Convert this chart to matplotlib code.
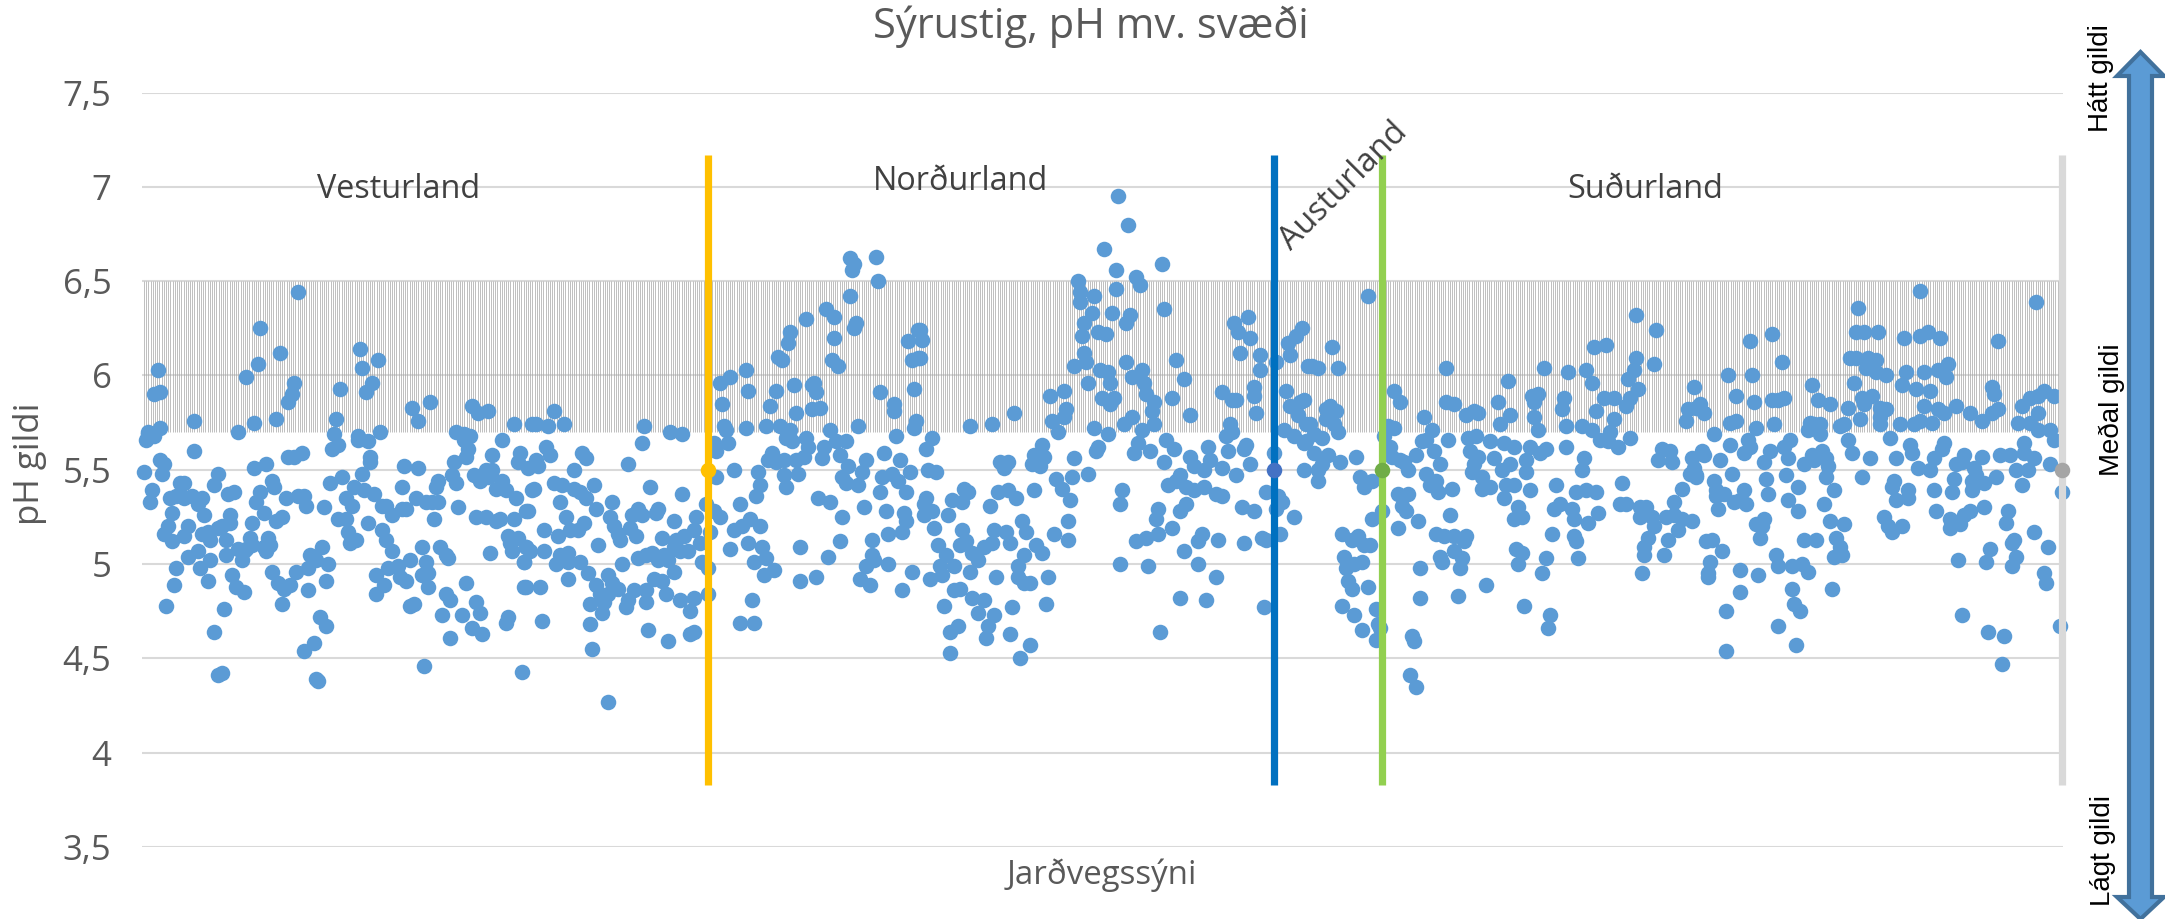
import matplotlib
matplotlib.use("Agg")
import matplotlib.pyplot as plt
from matplotlib.patches import Polygon
import numpy as np

# pH values, grouped in five runs along the x axis
x1 = [1,2,3,5,4,3,6,9,6,9,
      8,9,11,10,12,16,17,15,11,13,
      15,14,17,19,21,19,21,25,26,26,
      23,21,23,28,29,33,30,28,31,30,
      34,33,38,34,36,38,36,38,40,41,
      42,42,44,44,43,46,40,45,47,51,
      48,52,56,58,59,56,62,59,57,61,
      55,50,48,52,54,51,55,61,62,63,
      64,65,68,71,74,77,70,65,66,67,
      69,73,75,76,78,73,76,80,72,78,
      81,82,70,67,83,81,86,87,88,89,
      92,92,84,90,83,87,93,91,94,100,
      95,98,96,97,99,98,102,102,106,105,
      103,104,107,113,111,116,110,114,114,108,
      108,113,119,112,115,110,109,118,135,138,
      144,120,122,125,123,117,121,117,120,122,
      125,130,132,130,131,138,137,142,146,145,
      148,147,148,155,157,156,128,134,129,132,
      140,142,140,143,143,134,136,141,149,153,
      152,152,154,162,150,160,154,167,169,165,
      170,183,182,190,191,191,174,185,184,183,
      188,192,157,161,164,161,163,162,165,168,
      173,186,180,175,189,188,166,169,172,175,
      173,177,180,182,187,193,167,172,177,179,
      186,192,195,158,195]
ph1 = [5.49,5.66,5.69,5.39,5.33,5.70,5.68,5.72,5.90,5.91,
       6.03,5.55,5.53,5.48,4.78,4.89,4.98,5.12,5.16,5.20,
       5.27,5.35,5.36,5.43,5.43,5.37,5.35,5.36,5.60,5.76,
       5.20,5.15,5.04,5.07,4.98,4.91,5.35,5.32,5.26,5.16,
       5.13,5.17,5.19,5.02,5.42,5.48,4.64,4.41,4.42,4.76,
       5.05,5.13,5.22,5.26,5.37,5.38,5.20,4.94,4.88,4.85,
       5.70,5.99,5.75,6.06,6.25,5.51,5.53,5.38,5.33,5.27,
       5.22,5.02,5.08,5.08,5.14,5.07,5.10,5.09,5.07,5.14,
       5.10,4.96,4.90,4.87,4.89,4.96,4.79,5.44,5.41,5.77,
       6.12,5.86,5.90,5.96,6.44,5.57,5.57,5.59,5.35,5.36,
       5.36,5.31,5.25,5.23,4.86,4.54,4.58,4.39,4.38,4.72,
       4.67,4.91,5.05,5.09,4.98,5.02,5.00,5.30,5.43,5.46,
       5.61,5.63,5.69,5.77,5.93,5.24,5.24,5.35,5.41,5.31,
       5.17,5.11,5.13,5.22,5.39,5.37,5.48,5.54,5.57,5.66,
       5.68,5.65,5.70,5.91,5.96,6.04,6.14,6.08,5.83,5.76,
       5.86,5.18,5.13,5.07,4.98,4.94,4.89,4.84,5.31,5.31,
       5.26,5.29,5.29,5.41,5.52,5.51,5.35,5.33,5.24,5.33,
       5.33,5.41,5.44,5.47,5.43,5.54,4.99,5.02,4.93,4.91,
       5.09,5.01,4.94,4.95,4.88,4.78,4.79,4.46,5.09,5.03,
       5.05,4.84,4.81,4.90,4.73,4.73,4.61,4.80,4.74,4.66,
       4.63,4.72,4.69,4.43,4.88,5.01,5.06,5.07,5.11,5.15,
       5.14,5.09,5.70,5.69,5.68,5.66,5.61,5.57,5.84,5.80,
       5.81,5.74,5.66,5.58,5.59,5.54,5.47,5.44,5.50,5.50,
       5.46,5.40,5.44,5.39,5.35,5.51,5.25,5.25,5.23,5.24,
       5.24,5.28,5.39,5.30,5.74]

x2 = [197,203,206,211,198,197,202,204,196,206,
      210,209,216,219,222,226,216,220,222,227,
      193,212,214,218,221,201,208,228,192,194,
      201,207,209,213,213,219,191,213,192,199,
      200,223,227,229,233,231,224,230,224,225,
      233,233,235,238,240,235,234,236,238,239,
      243,245,248,250,244,247,251,250,254,258,
      257,266,260,270,264,270,248,252,255,258,
      261,263,266,266,267,271,276,277,282,269,
      273,279,280,283,284,286,289,287,256,260,
      246,252,243,242,252,262,269,276,283,274,
      253,263,274,276,286,287,293,289,294,290,
      291,292,302,303,302,296,308,309,307,299,
      296,300,304,309,294,303,310,312,306,316,
      311,305,299,306,329,337,329,343,349,338,
      344,350,361,322,321,328,314,317,326,335,
      336,337,327,335,339,312,319,324,322,325,
      332,333,315,313,317,321,327,331,340,341,
      344,347,352,349,353,350,352,358,360,362,
      358,377,371,379,384,370,375,378,369,382,
      372,381,382,380,373,365,365,366,362,373,
      385,359,364,380,354,356,355,367,368,354,
      342,346,332,324,323,318,320,346,357,356,
      345,348,369,376,376,383,388,385,388,386,
      387,386]
ph2 = [5.74,5.73,5.81,5.74,5.52,5.55,5.62,5.58,5.40,5.43,
       5.42,5.33,5.40,5.38,5.35,5.42,5.50,5.59,5.56,5.29,
       5.28,5.25,5.18,5.18,5.22,5.18,5.15,5.10,5.09,5.07,
       5.07,5.00,5.05,5.06,5.01,5.01,5.01,4.92,4.88,4.88,
       4.70,4.95,4.89,4.84,4.84,4.80,4.79,4.74,4.68,4.55,
       4.27,4.94,4.90,4.87,5.00,5.33,5.25,5.20,5.16,5.13,
       5.53,5.26,5.29,5.26,5.19,5.15,5.73,5.64,5.41,5.29,
       5.27,5.23,5.14,5.37,5.70,5.69,5.03,5.05,5.06,5.02,
       5.05,5.02,4.96,5.09,5.13,5.15,5.18,5.25,5.32,5.07,
       5.07,5.11,5.01,4.98,5.17,5.28,5.25,5.46,4.92,4.91,
       4.86,4.86,4.81,4.77,4.80,4.84,4.81,4.82,4.84,4.75,
       4.65,4.59,4.63,4.64,5.64,5.60,5.64,5.96,5.99,5.85,
       5.73,5.71,6.03,5.92,5.72,5.50,5.49,5.42,5.36,5.32,
       5.18,5.20,5.24,5.20,5.08,5.11,5.09,5.03,5.01,4.97,
       4.94,4.81,4.69,4.69,4.91,4.93,5.09,5.04,5.12,5.35,
       5.33,5.25,5.30,5.41,5.47,5.48,5.84,5.92,5.95,5.95,
       5.96,5.91,5.80,5.82,5.83,5.73,5.73,5.71,5.67,5.65,
       5.67,5.62,5.59,5.55,5.54,5.55,5.55,5.57,5.56,5.62,
       5.71,5.65,5.65,5.58,5.52,5.46,5.43,5.42,5.49,5.55,
       5.73,5.68,5.59,5.55,5.49,5.46,5.48,5.44,5.38,5.38,
       5.28,5.27,5.23,5.17,5.16,5.13,5.05,5.02,4.99,5.00,
       4.96,4.92,4.89,4.86,6.62,6.59,6.56,6.63,6.50,6.42,
       6.35,6.31,6.30,6.23,6.17,6.10,6.08,6.20,6.28,6.25,
       6.08,6.05,5.91,5.85,5.81,6.18,6.24,6.08,6.09,5.93,
       5.76,5.72]

x3 = [389,390,389,395,392,393,397,392,391,391,
      395,403,396,398,402,399,406,394,400,414,
      405,410,411,413,410,412,409,415,418,421,
      425,426,432,434,440,442,424,428,433,437,
      446,406,409,401,415,421,418,426,423,404,
      408,422,404,434,444,439,435,427,438,441,
      438,441,444,447,450,453,456,463,463,464,
      460,457,465,452,429,433,431,445,449,446,
      451,450,466,436,425,414,454,461,462,455,
      461,458,473,478,477,476,483,473,466,471,
      472,470,471,475,478,482,469,469,468,476,
      485,487,487,481,493,488,510,497,499,511,
      494,492,479,483,484,492,500,495,501,517,
      521,502,506,505,506,480,484,486,515,495,
      491,500,524,498,496,504,512,516,511,524,
      533,526,534,543,552,551,554,540,531,547,
      519,513,517,522,526,531,537,540,490,489,
      522,519,508,507,515,508,502,497,530,528,
      538,521,551,489,503,528,537,519,532,509,
      561,560,562,569,576,550,556,562,568,570,
      567,581,566,540,545,547,544,542,545,557,
      556,556,559,559,567,549,546,548,553,554,
      574,573,577,580,583,572,574,579,581,578,
      571,576,582,581]
ph3 = [6.24,6.19,6.09,5.67,5.61,5.50,5.49,5.35,5.32,5.26,
       5.28,5.26,5.19,5.10,5.05,4.99,4.99,4.92,4.94,4.96,
       5.34,5.33,5.40,5.38,5.18,5.12,5.10,5.06,5.02,5.09,
       5.11,5.18,5.17,5.11,5.23,5.17,5.31,5.38,5.39,5.35,
       5.39,4.86,4.87,4.78,4.82,4.81,4.74,4.73,4.67,4.64,
       4.67,4.61,4.53,4.63,4.57,4.50,4.77,4.93,4.99,5.05,
       4.93,4.90,4.90,5.10,5.06,4.93,5.16,5.13,5.23,5.34,
       5.40,5.45,5.46,4.79,5.54,5.54,5.51,5.53,5.52,5.58,
       5.57,5.63,5.56,5.80,5.74,5.73,5.89,5.92,5.82,5.76,
       5.78,5.70,5.48,5.62,5.60,5.72,5.69,5.96,6.05,6.12,
       6.07,6.21,6.28,6.33,6.23,6.22,6.39,6.44,6.50,6.42,
       6.33,6.46,6.56,6.67,6.80,6.95,6.59,6.52,6.48,6.35,
       6.32,6.28,6.03,6.02,5.96,6.07,6.03,5.99,5.96,6.08,
       5.98,5.90,5.86,5.81,5.74,5.88,5.85,5.88,5.88,5.78,
       5.74,5.71,5.79,5.64,5.59,5.60,5.66,5.61,5.54,5.57,
       5.62,5.52,5.55,5.60,5.63,5.61,5.53,5.51,5.50,5.47,
       5.47,5.42,5.44,5.41,5.39,5.41,5.37,5.36,5.39,5.32,
       5.32,5.28,5.29,5.24,5.19,5.16,5.14,5.12,5.16,5.12,
       5.13,5.07,5.11,5.00,4.99,5.00,4.93,4.82,4.81,4.64,
       4.77,5.14,5.13,5.16,5.25,5.30,5.28,5.38,5.36,5.33,
       5.29,5.50,5.59,5.91,5.87,5.87,5.74,5.68,5.70,5.80,
       5.94,5.89,6.11,6.03,6.07,6.12,6.28,6.23,6.31,6.20,
       6.11,6.17,6.21,6.25,6.05,5.92,5.84,5.86,5.87,5.79,
       5.71,5.68,5.74,5.64]

x4 = [595,585,588,598,594,592,597,592,596,598,
      584,586,590,582,586,593,599,607,588,590,
      588,609,611,615,613,626,629,641,652,652,
      656,626,623,621,645,640,642,653,624,625,
      637,646,649,629,631,633,642,644,647,648,
      655,628,633,630,632,638,628,620,615,654,
      600,605,608,611,614,601,610,606,602,603,
      605,613,600,606,617,618,619,610,617,635,
      636,634,637,639,639,647,651,656,662,661,
      656,649,650,660,659,658,672,691,704,703,
      700,702,718,717,716,705,688,687,690,686,
      690,688,681,694,682,686,670,674,670,665,
      666,664,668,663,667,674,681,686,694,702,
      699,712,692,692,684,676,680,679,684,678,
      683,662,666,668,696,698,695,696,698,701,
      713,711,710,712,720,725,722,725,726,732,
      747,757,756,747,746,743,748,744,742,736,
      731,727,736,734,729,733,738,744,773,772,
      777,776,721,720,707,717,722,727,740,739,
      742,706,709,715,716,723,728,770,774,777,
      758,760,764,765,775,749,752,749,755,756,
      762,766,766,768,770,775,753,751,751,763,
      761,750]
ph4 = [6.15,6.05,6.04,6.04,5.84,5.82,5.81,5.77,5.74,5.70,
       5.74,5.69,5.67,5.65,5.59,5.58,5.54,5.57,5.50,5.53,
       5.44,5.46,5.41,5.44,6.42,5.92,5.86,5.78,6.04,5.86,
       5.85,5.72,5.73,5.68,5.71,5.65,5.66,5.66,5.62,5.57,
       5.58,5.60,5.53,5.55,5.54,5.50,5.48,5.42,5.44,5.38,
       5.40,5.37,5.37,5.31,5.28,5.23,5.19,5.28,5.24,5.26,
       5.16,5.13,5.15,5.10,5.10,5.04,5.01,5.00,4.98,4.91,
       4.87,4.88,4.78,4.73,4.76,4.68,4.66,4.65,4.60,4.62,
       4.59,4.41,4.35,4.98,4.82,5.16,5.15,5.15,5.15,5.12,
       5.07,5.04,5.01,5.03,4.98,4.83,4.89,4.78,4.73,4.66,
       4.95,5.03,5.03,5.12,5.15,5.16,5.00,5.08,5.06,5.24,
       5.25,5.30,5.35,5.39,5.42,5.42,5.40,5.41,5.46,5.49,
       5.53,5.60,5.57,5.67,5.68,5.65,5.64,5.62,5.62,5.61,
       5.59,5.62,5.55,5.49,5.53,5.56,5.50,5.74,5.79,5.86,
       5.97,5.79,5.81,5.80,5.78,5.71,5.89,5.86,5.90,6.04,
       6.02,5.88,5.82,5.73,5.73,5.71,6.03,5.96,6.15,6.16,
       6.32,6.24,6.06,6.09,6.03,5.98,5.93,5.88,5.84,5.88,
       5.88,5.81,5.77,5.70,5.66,5.65,5.62,5.67,5.82,5.76,
       5.83,5.94,5.56,5.50,5.42,5.38,5.39,5.38,5.43,5.32,
       5.32,5.29,5.32,5.29,5.24,5.22,5.27,5.40,5.48,5.47,
       5.55,5.61,5.60,5.54,5.56,5.30,5.30,5.25,5.25,5.20,
       5.25,5.33,5.26,5.18,5.24,5.23,5.14,5.09,5.05,5.13,
       5.05,4.95]

x5 = [779,781,780,781,776,777,786,793,797,794,
      797,794,789,795,786,787,787,791,796,801,
      799,802,788,782,785,790,784,783,783,799,
      808,799,792,792,804,815,805,820,806,815,
      818,821,807,816,803,804,801,814,811,824,
      821,823,812,822,828,813,823,828,811,807,
      810,809,817,818,825,830,833,825,826,829,
      818,827,831,837,835,838,844,841,844,851,
      846,842,843,842,840,835,831,836,834,839,
      833,839,836,847,849,846,850,845,849,851,
      853,855,853,856,858,857,861,868,854,857,
      863,867,862,867,872,860,865,861,859,869,
      872,869,869,879,874,864,860,877,881,889,
      893,899,882,891,898,903,902,889,880,887,
      894,891,898,901,907,914,920,925,928,886,
      889,895,884,885,901,900,896,888,894,911,
      907,910,920,916,917,906,905,896,915,915,
      921,927,876,875,883,877,883,871,873,875,
      880,897,904,904,909,911,914,921,933,932,
      908,922,924,935,936,937,935,946,953,951,
      952,910,923,931,930,959,928,947,925,926,
      940,944,951,948,956,938,948,944,948,954,
      956,941,929,934,941,946,937,943,954,940,
      960]
ph5 = [5.85,5.80,5.60,5.58,5.51,5.46,5.69,6.00,5.89,5.75,
       5.76,5.63,5.55,5.48,5.44,5.39,5.36,5.37,5.33,5.39,
       5.34,5.32,5.29,5.12,5.13,5.07,5.01,4.95,4.93,4.97,
       4.94,4.85,4.75,4.54,6.18,6.22,6.00,6.07,5.86,5.87,
       5.87,5.88,5.72,5.74,5.66,5.62,5.59,5.60,5.54,5.66,
       5.62,5.56,5.45,5.47,5.41,5.37,5.34,5.28,5.24,5.21,
       5.20,5.14,5.05,4.99,4.99,5.00,4.96,4.87,4.79,4.75,
       4.67,4.57,5.13,5.13,5.95,5.87,5.85,5.32,5.23,5.21,
       5.39,5.46,5.52,5.56,5.60,5.58,5.53,5.55,5.75,5.74,
       5.71,5.69,5.74,5.14,5.09,5.04,5.05,4.87,5.73,5.74,
       5.66,5.59,5.83,5.96,6.36,6.23,6.23,6.23,6.09,6.09,
       6.09,6.08,6.04,6.02,6.00,5.88,5.89,5.85,5.77,5.83,
       5.82,5.78,5.74,5.74,5.67,5.56,5.46,5.56,6.20,6.21,
       6.23,6.20,6.02,6.02,6.03,6.06,5.99,6.45,5.95,5.93,
       5.92,5.84,5.82,5.80,5.84,5.80,5.76,5.80,5.82,5.74,
       5.76,5.75,5.63,5.59,5.64,5.61,5.56,5.51,5.50,5.58,
       5.53,5.54,5.57,5.51,5.47,5.45,5.38,5.39,5.39,5.44,
       5.43,5.46,5.44,5.41,5.39,5.34,5.35,5.25,5.20,5.17,
       5.20,5.28,5.24,5.19,5.21,5.26,5.28,5.30,5.28,5.22,
       5.02,5.01,5.08,5.11,5.13,5.04,4.99,5.17,5.09,4.95,
       4.90,4.73,4.64,4.62,4.47,4.67,6.18,6.39,5.94,5.90,
       5.84,5.88,5.92,5.89,5.89,5.75,5.80,5.75,5.71,5.71,
       5.66,5.64,5.58,5.58,5.59,5.56,5.50,5.50,5.53,5.42,
       5.38]

y_ticks = [3.5, 4, 4.5, 5, 5.5, 6, 6.5, 7, 7.5]
y_tick_labels = ["3,5", "4", "4,5", "5", "5,5", "6", "6,5", "7", "7,5"]

# region borders, drawn as error bars around 5.5 in the original
skil_x = [283, 566, 620, 960]
skil_lina = ["#ffc000", "#0070c0", "#92d050", "#d9d9d9"]
skil_punktur = ["#ffc000", "#4472c4", "#70ad47", "#a5a5a5"]
skil_midja = 5.5
skil_haed = 1.67

band_low = 5.7
band_high = 6.5

W, H = 2165, 919
TXT = "#595959"
plt.rcParams["font.family"] = ["Open Sans", "DejaVu Sans"]

fig = plt.figure(figsize=(W / 100, H / 100), dpi=100)
ax = fig.add_axes([142 / W, (H - 847) / H, (2063 - 142) / W, (847 - 92.5) / H])
ax.set_xlim(0, 960.5)
ax.set_ylim(3.5, 7.5)

ax.set_yticks(y_ticks)
ax.set_yticklabels(y_tick_labels, fontsize=25, color=TXT)
ax.set_xticks([])
ax.tick_params(axis="y", length=0, pad=22)
for s in ax.spines.values():
    s.set_visible(False)
ax.grid(axis="y", color="#d9d9d9", linewidth=1.5)
ax.set_axisbelow(True)

band_x = np.linspace(1, 960, 875)
band = ax.vlines(band_x, band_low, band_high, color="#a6a6a6", linewidth=0.72, alpha=0.7, zorder=1)
band.set_snap(True)

ax.scatter(x1 + x2 + x3 + x4 + x5, ph1 + ph2 + ph3 + ph4 + ph5, s=125, color="#5b9bd5", linewidths=0,
           zorder=2, clip_on=False)

for x, c, m in zip(skil_x, skil_lina, skil_punktur):
    ax.plot([x, x], [skil_midja - skil_haed, skil_midja + skil_haed], color=c, linewidth=5.2,
            solid_capstyle="butt", zorder=3, clip_on=False)
    ax.scatter([x], [skil_midja], s=125, color=m, linewidths=0, zorder=4, clip_on=False)

# everything outside the plot goes on an overlay measured in pixels
ann = fig.add_axes([0, 0, 1, 1])
ann.set_xlim(0, W)
ann.set_ylim(H, 0)
ann.axis("off")
ann.patch.set_alpha(0)

ann.text(1091, 27, "Sýrustig, pH mv. svæði", fontsize=30, color=TXT, ha="center", va="center")
ann.text(30, 464, "pH gildi", fontsize=25, color=TXT, rotation=90, ha="center", va="center")
ann.text(1102, 875, "Jarðvegssýni", fontsize=23.8, color=TXT, ha="center", va="center")

for label, px, py in [("Vesturland", 399, 190), ("Norðurland", 961, 182), ("Suðurland", 1645, 189)]:
    ann.text(px, py, label, fontsize=23.3, color="#404040", ha="center", va="center")
ann.text(1344, 186, "Austurland", fontsize=23.3, color="#404040", rotation=45, ha="center", va="center",
         rotation_mode="anchor")

narrow = ["Liberation Sans Narrow", "Liberation Sans"]
ann.text(2101, 78, "Hátt gildi", fontsize=20, family=narrow, color="black", rotation=90, ha="center", va="center")
ann.text(2112, 410, "Meðal gildi", fontsize=20, family=narrow, color="black", rotation=90, ha="center", va="center")
ann.text(2103, 850, "Lágt gildi", fontsize=20, family=narrow, color="black", rotation=90, ha="center", va="center")

ann.add_patch(Polygon([(2140.5, 52), (2164, 76), (2152, 76), (2152, 897), (2164, 897), (2140.5, 919),
                       (2117, 897), (2129, 897), (2129, 76), (2117, 76)],
                      closed=True, facecolor="#5b9bd5", edgecolor="#41719c", linewidth=3, clip_on=False))

fig.savefig("out.png", dpi=100)
plt.close(fig)
